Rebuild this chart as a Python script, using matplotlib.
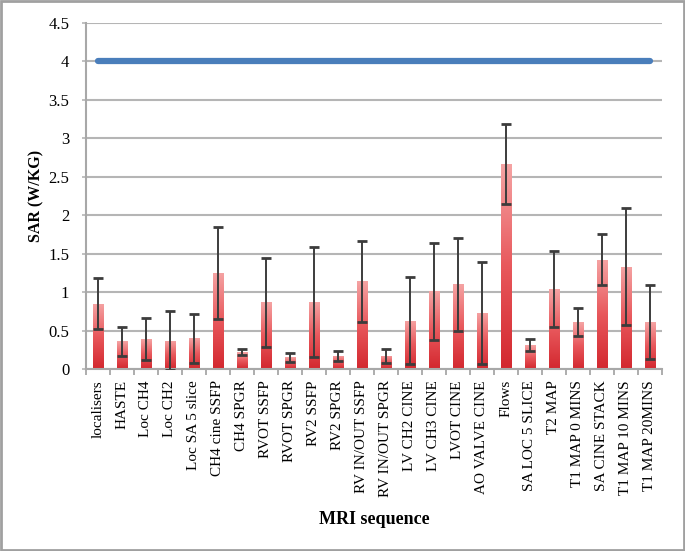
import matplotlib.pyplot as plt
import numpy as np
from matplotlib.patches import Rectangle

sequences = ["localisers", "HASTE", "Loc CH4", "Loc CH2", "Loc SA 5 slice", "CH4 cine SSFP",
             "CH4 SPGR", "RVOT SSFP", "RVOT SPGR", "RV2 SSFP", "RV2 SPGR", "RV IN/OUT SSFP",
             "RV IN/OUT SPGR", "LV CH2 CINE", "LV CH3 CINE", "LVOT CINE", "AO VALVE CINE", "Flows",
             "SA LOC 5 SLICE", "T2 MAP", "T1 MAP 0 MINS", "SA CINE STACK", "T1 MAP 10 MINS", "T1 MAP 20MINS"]
sar = [0.85, 0.36, 0.39, 0.37, 0.40, 1.25, 0.22, 0.87, 0.15, 0.87, 0.17, 1.14,
       0.17, 0.63, 1.01, 1.10, 0.73, 2.66, 0.31, 1.04, 0.61, 1.42, 1.33, 0.61]
sd = [0.33, 0.19, 0.27, 0.38, 0.32, 0.60, 0.04, 0.58, 0.06, 0.72, 0.07, 0.53,
      0.09, 0.57, 0.63, 0.60, 0.66, 0.52, 0.08, 0.50, 0.18, 0.33, 0.76, 0.48]
limit = [4] * len(sequences)

plt.rcParams['font.family'] = ['Liberation Serif', 'DejaVu Serif']

fig = plt.figure(figsize=(6.85, 5.51), dpi=100)
ax = fig.add_axes([0.1255, 0.3303, 0.8409, 0.628])

x = np.arange(len(sequences))
bars = ax.bar(x, sar, width=0.45, color='none', edgecolor='none', zorder=2)

# vertical gradient fill in each bar, light pink at top to red at bottom
grad = np.linspace(0, 1, 100).reshape(-1, 1)
cmap = plt.matplotlib.colors.LinearSegmentedColormap.from_list('bar', ['#d3282f', '#e8585c', '#f5a3a3'])
for b in bars:
    bx, by = b.get_x(), b.get_y()
    w, h = b.get_width(), b.get_height()
    im = ax.imshow(grad, cmap=cmap, aspect='auto', origin='lower',
                   extent=[bx, bx + w, by, by + h], zorder=2)
    im.set_clip_path(b)

ax.errorbar(x, sar, yerr=sd, fmt='none', ecolor='#3c3c3c', elinewidth=1.4,
            capsize=3.5, capthick=2, zorder=3)
ax.plot(x, limit, color='#4a7ebb', lw=4.5, solid_capstyle='round', zorder=4)

ax.set_xlim(-0.5, len(sequences) - 0.5)
ax.set_ylim(0, 4.5)
ax.set_yticks(np.arange(0, 4.6, 0.5))
ax.set_yticklabels(['0', '0.5', '1', '1.5', '2', '2.5', '3', '3.5', '4', '4.5'], fontsize=12)
ax.yaxis.grid(True, color='#b5b5b5', lw=1.5, zorder=0)
ax.set_axisbelow(True)

ax.set_xticks(x)
ax.set_xticklabels(sequences, rotation=90, fontsize=11)
ax.set_xticks(np.arange(-0.5, len(sequences)), minor=True)
ax.tick_params(axis='x', which='major', length=0, pad=8)
ax.tick_params(axis='x', which='minor', length=4, color='#a0a0a0', width=1.2)
ax.tick_params(axis='y', length=3, color='#b5b5b5', width=1.2, pad=9)

for s in ['top', 'right']:
    ax.spines[s].set_visible(False)
for s in ['left', 'bottom']:
    ax.spines[s].set_color('#a8a8a8')
    ax.spines[s].set_linewidth(1.5)

ax.set_ylabel('SAR (W/KG)', fontsize=11.5, fontweight='bold', labelpad=3)
ax.set_xlabel('MRI sequence', fontsize=13, fontweight='bold', labelpad=10)

fig.patches.append(Rectangle((0.002, 0.002), 0.996, 0.996, transform=fig.transFigure,
                             fill=False, edgecolor='#a0a0a0', lw=2))

fig.savefig('out.png', dpi=100)
